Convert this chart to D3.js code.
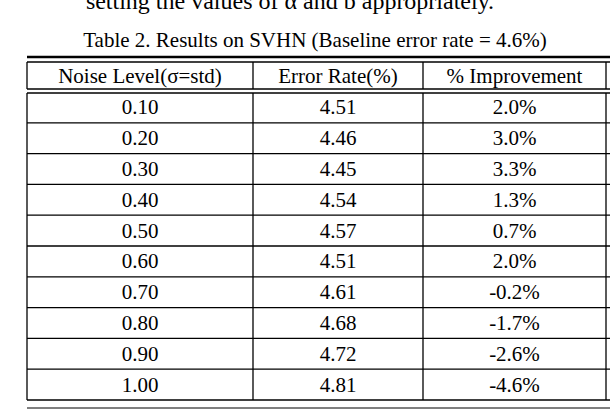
<!DOCTYPE html>
<html><head><meta charset="utf-8">
<script src="https://cdn.jsdelivr.net/npm/d3@7"></script>
<style>body{margin:0;background:#fff}svg{font-family:"Liberation Serif","Times New Roman",serif}</style>
</head><body><svg id="c" width="610" height="410"></svg>
<script>
var headers = ["Noise Level(\u03c3=std)", "Error Rate(%)", "% Improvement"];
var noise = ["0.10","0.20","0.30","0.40","0.50","0.60","0.70","0.80","0.90","1.00"];
var errorRate = ["4.51","4.46","4.45","4.54","4.57","4.51","4.61","4.68","4.72","4.81"];
var improvement = ["2.0%","3.0%","3.3%","1.3%","0.7%","2.0%","-0.2%","-1.7%","-2.6%","-4.6%"];

var svg = d3.select("#c");
var colEdges = [27, 253, 423, 606];
var x = d3.scaleOrdinal().domain([0,1,2]).range([0,1,2].map(function(i){return (colEdges[i]+colEdges[i+1])/2;}));
var y = d3.scaleBand().domain(d3.range(noise.length)).range([92, 400]);

svg.append("text").attr("x", 290).attr("y", 9).attr("text-anchor","middle").attr("font-size",24)
  .text("setting the values of \u03b1 and b appropriately.");
svg.append("text").attr("x", 315).attr("y", 47).attr("text-anchor","middle").attr("font-size",21)
  .text("Table 2. Results on SVHN (Baseline error rate = 4.6%)");

function hline(yy, w){ svg.append("line").attr("x1",27).attr("x2",610).attr("y1",yy).attr("y2",yy).attr("stroke","#000").attr("stroke-width",w||1.3); }
hline(57, 2.5);
hline(62);
hline(89);
hline(93);

colEdges.forEach(function(cx){
  svg.append("line").attr("x1",cx).attr("x2",cx).attr("y1",62).attr("y2",89).attr("stroke","#000").attr("stroke-width",1.3);
});
svg.selectAll(".hd").data(headers).enter().append("text").attr("class","hd")
  .attr("x",function(d,i){return x(i);}).attr("y",83).attr("text-anchor","middle").attr("font-size",21)
  .text(function(d){return d;});

colEdges.forEach(function(cx){
  svg.append("line").attr("x1",cx).attr("x2",cx).attr("y1",93).attr("y2",400).attr("stroke","#000").attr("stroke-width",1.3);
});
noise.forEach(function(n,i){
  hline(y(i)+y.bandwidth());
  [n, errorRate[i], improvement[i]].forEach(function(v,j){
    svg.append("text").attr("x",x(j)).attr("y",y(i)+y.bandwidth()/2+7).attr("text-anchor","middle").attr("font-size",21).text(v);
  });
});
hline(408, 1);
</script></body></html>
